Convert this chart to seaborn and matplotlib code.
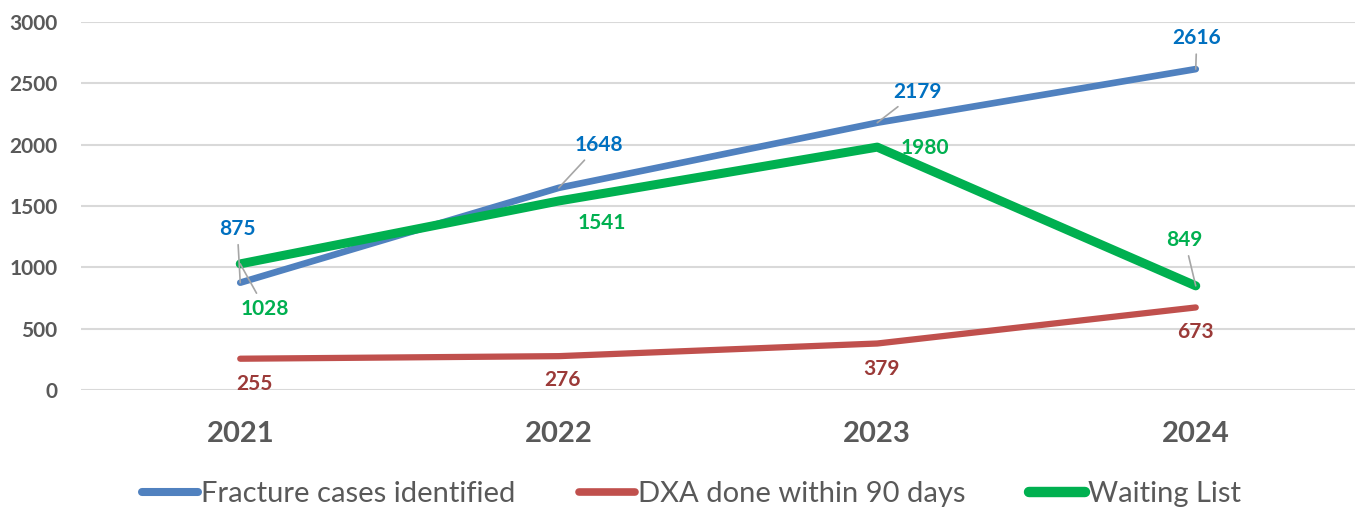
import matplotlib
matplotlib.use("Agg")
import matplotlib.pyplot as plt
import seaborn as sns
import pandas as pd
from matplotlib.lines import Line2D
from matplotlib import font_manager

years = ["2021", "2022", "2023", "2024"]
fracture = [875, 1648, 2179, 2616]
dxa = [255, 276, 379, 673]
waiting = [1028, 1541, 1980, 849]
series_names = ["Fracture cases identified", "DXA done within 90 days", "Waiting List"]
yticks = [0, 500, 1000, 1500, 2000, 2500, 3000]

sns.set_theme(style="white")
plt.rcParams["font.family"] = ["Lato", "DejaVu Sans"]

names = {f.name for f in font_manager.fontManager.ttflist}
legend_font = "Liberation Sans Narrow" if "Liberation Sans Narrow" in names else "Lato"

fig = plt.figure(figsize=(13.55, 5.08), dpi=100)
ax = fig.add_axes([81/1355, 1-390/508, 1-81/1355, (390-22)/508])

line_colors = ["#5081BF", "#C0504D", "#00B050"]
label_colors = ["#0070C0", "#9B3A38", "#00B050"]
widths = [4.8, 4.5, 6.5]
data_sets = [fracture, dxa, waiting]
xs = list(range(len(years)))

order = [1, 0, 2]
for i in order:
    df = pd.DataFrame({"x": xs, "y": data_sets[i]})
    sns.lineplot(data=df, x="x", y="y", ax=ax, color=line_colors[i],
                 linewidth=widths[i], solid_capstyle="round", zorder=3 + (i == 2))

# label offsets in pixels (dx, dy) and whether a leader line is drawn
offsets = [
    [(-3, 54, True), (40, 43, True), (40, 31, True), (1, 31, True)],
    [(14, -25, False), (4, -24, False), (4, -25, False), (0, -25, False)],
    [(25, -45, True), (43, -22, False), (48, -1, False), (-11, 46, True)],
]
for i, vals in enumerate(data_sets):
    for j, v in enumerate(vals):
        dx, dy, lead = offsets[i][j]
        kw = {}
        if lead:
            kw["arrowprops"] = dict(arrowstyle="-", color="#A6A6A6", lw=1.2,
                                    shrinkA=2, shrinkB=0)
        ax.annotate(str(v), xy=(j, v), xytext=(dx, dy), textcoords="offset pixels",
                    ha="center", va="center", fontsize=15, fontweight="bold",
                    color=label_colors[i], zorder=6, **kw)

ax.set_xlim(-0.5, 3.5)
ax.set_ylim(0, 3000)
ax.set_yticks(yticks)
ax.set_yticklabels([str(t) for t in yticks], fontsize=15, fontweight="bold", color="#595959")
ax.set_xticks(xs)
ax.set_xticklabels(years, fontsize=21, fontweight="bold", color="#595959")
ax.tick_params(axis="y", length=0, pad=17)
ax.tick_params(axis="x", length=0, pad=22)
ax.set_xlabel("")
ax.set_ylabel("")
ax.grid(axis="y", color="#D9D9D9", linewidth=1.5, zorder=0)
ax.set_axisbelow(True)
for s in ax.spines.values():
    s.set_visible(False)

handles = [Line2D([0], [0], color=line_colors[i], linewidth=widths[i] + 1,
                  solid_capstyle="round") for i in range(3)]
fig.legend(handles, series_names, loc="center", bbox_to_anchor=(0.5 + 14/1355, 1-494/508),
           ncol=3, frameon=False, handlelength=1.9, handletextpad=0.1, columnspacing=2.2,
           prop={"family": legend_font, "size": 21}, labelcolor="#595959")

fig.savefig("out.png", dpi=100)
